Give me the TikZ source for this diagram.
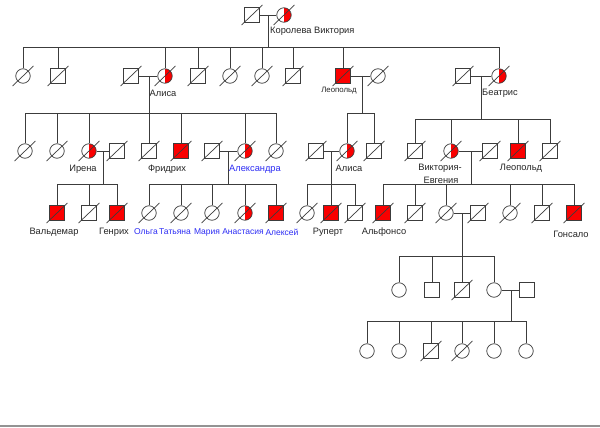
\documentclass[tikz,border=0pt]{standalone}
\usepackage{fontspec}
\setmainfont{Liberation Sans}
\definecolor{pedline}{RGB}{60,60,60}
\definecolor{aff}{RGB}{250,0,0}
\definecolor{nameblue}{RGB}{45,45,245}
\tikzset{
  pl/.style={draw=pedline,line width=0.7pt},
  ind/.style={draw=pedline,fill=white,line width=0.7pt,inner sep=0pt,minimum size=14.5pt},
  male/.style={ind,rectangle},
  female/.style={ind,circle},
  affm/.style={male,fill=aff},
  carrier/.style={female,path picture={\fill[aff] (path picture bounding box.north) rectangle (path picture bounding box.south east);}},
  dead/.style={append after command={([shift={(-10.5,10)}]\tikzlastnode.center) edge[pl] ([shift={(10.5,-10)}]\tikzlastnode.center)}},
  lbl/.style={font=\fontsize{9.3}{11}\selectfont,text=black!85,inner sep=0pt},
  blbl/.style={inner sep=0pt,font=\fontsize{8.5}{10}\selectfont,text=nameblue},
}

\begin{document}
\begin{tikzpicture}[x=1pt,y=-1pt]
  \fill[white] (0,0) rectangle (600,428);
  \useasboundingbox (0,0) rectangle (600,428);
  \draw[gray!85,line width=2pt] (0,426) -- (600,426);

  % generation I
  \node[male,dead] (albert) at (252,15) {};
  \node[carrier,dead] (victoria) at (284,15) {};
  \node[lbl,anchor=west] (lvictoria) at (270,31) {Королева Виктория};

  % generation II
  \node[female,dead] (vicky) at (23,76) {};
  \node[male,dead] (edward) at (58,76) {};
  \node[male,dead] (ludwig) at (131,76) {};
  \node[carrier,dead] (alice) at (165,76) {};
  \node[male,dead] (alfred) at (198,76) {};
  \node[female,dead] (helena) at (230,76) {};
  \node[female,dead] (louise) at (262,76) {};
  \node[male,dead] (arthur) at (293,76) {};
  \node[affm,dead] (leo) at (343,76) {};
  \node[female,dead] (helene) at (378,76) {};
  \node[male,dead] (henry) at (463,76) {};
  \node[carrier,dead] (beatrice) at (499,76) {};
  \node[lbl] (lalice) at (163,93) {Алиса};
  \node[lbl,font=\fontsize{7.8}{9}\selectfont] (lleo) at (339,91) {Леопольд};
  \node[lbl] (lbeatrice) at (500,93) {Беатрис};

  % generation III
  \node[female,dead] (victoria3) at (25,151) {};
  \node[female,dead] (ella) at (57,151) {};
  \node[carrier,dead] (irene) at (89,151) {};
  \node[male,dead] (irenehus) at (117,151) {};
  \node[male,dead] (ernie) at (149,151) {};
  \node[affm,dead] (fritz) at (181,151) {};
  \node[male,dead] (nicky) at (212,151) {};
  \node[carrier,dead] (alix) at (245,151) {};
  \node[female,dead] (marie) at (276,151) {};
  \node[male,dead] (alicehus) at (316,151) {};
  \node[carrier,dead] (alicea) at (347,151) {};
  \node[male,dead] (charles) at (374,151) {};
  \node[male,dead] (alexb) at (415,151) {};
  \node[carrier,dead] (ena) at (451,151) {};
  \node[male,dead] (enahus) at (490,151) {};
  \node[affm,dead] (leob) at (518,151) {};
  \node[male,dead] (maurice) at (550,151) {};
  \node[lbl] (lirene) at (83,169) {Ирена};
  \node[lbl] (lfritz) at (167,169) {Фридрих};
  \node[lbl,text=nameblue] (lalix) at (255,169) {Александра};
  \node[lbl] (lalicea) at (349,168) {Алиса};
  \node[lbl] (lena1) at (440,168) {Виктория-};
  \node[lbl] (lena2) at (441,180) {Евгения};
  \node[lbl] (lleob) at (521,168) {Леопольд};

  % generation IV
  \node[affm,dead] (waldemar) at (57,213) {};
  \node[male,dead] (sigismund) at (89,213) {};
  \node[affm,dead] (heinrich) at (117,213) {};
  \node[female,dead] (olga) at (149,213) {};
  \node[female,dead] (tatiana) at (181,213) {};
  \node[female,dead] (maria) at (212,213) {};
  \node[carrier,dead] (anastasia) at (245,213) {};
  \node[affm,dead] (alexei) at (276,213) {};
  \node[female,dead] (may) at (307,213) {};
  \node[affm,dead] (rupert) at (331,213) {};
  \node[male,dead] (maurice4) at (355,213) {};
  \node[affm,dead] (alfonso) at (383,213) {};
  \node[male,dead] (jaime) at (415,213) {};
  \node[female,dead] (beatriz) at (446,213) {};
  \node[male,dead] (beatrizhus) at (478,213) {};
  \node[female,dead] (cristina) at (510,213) {};
  \node[male,dead] (juan) at (542,213) {};
  \node[affm,dead] (gonzalo) at (574,213) {};
  \node[lbl] (lwaldemar) at (54,232) {Вальдемар};
  \node[lbl] (lheinrich) at (114,232) {Генрих};
  \node[blbl] (lolga) at (146,232) {Ольга};
  \node[blbl] (ltatiana) at (175,232) {Татьяна};
  \node[blbl] (lmaria) at (207,232) {Мария};
  \node[blbl] (lanastasia) at (243,232) {Анастасия};
  \node[blbl] (lalexei) at (282,232) {Алексей};
  \node[lbl] (lrupert) at (328,232) {Руперт};
  \node[lbl] (lalfonso) at (384,232) {Альфонсо};
  \node[lbl] (lgonzalo) at (571,234) {Гонсало};

  % generation V
  \node[female] (v1) at (399,290) {};
  \node[male] (v2) at (432,290) {};
  \node[male,dead] (v3) at (462,290) {};
  \node[female] (v4) at (494,290) {};
  \node[male] (v4hus) at (527,290) {};

  % generation VI
  \node[female] (w1) at (367,351) {};
  \node[female] (w2) at (399,351) {};
  \node[male,dead] (w3) at (431,351) {};
  \node[female,dead] (w4) at (462,351) {};
  \node[female] (w5) at (494,351) {};
  \node[female] (w6) at (526,351) {};

  % couples
  \foreach \a/\b in {albert/victoria,ludwig/alice,leo/helene,henry/beatrice,
      irene/irenehus,nicky/alix,alicehus/alicea,ena/enahus,beatriz/beatrizhus,v4/v4hus}
    \draw[pl] (\a) -- (\b);

  % sibships: descent point / sibship line / children
  \coordinate (mI) at (268,15);    \coordinate (sI) at (0,47);
  \coordinate (mAl) at (149,76);   \coordinate (sAl) at (0,113);
  \coordinate (mLeo) at (362,76);  \coordinate (sLeo) at (0,113);
  \coordinate (mBea) at (481,76);  \coordinate (sBea) at (0,119);
  \coordinate (mIr) at (103,151);  \coordinate (sIr) at (0,184);
  \coordinate (mAx) at (228,151);  \coordinate (sAx) at (0,184);
  \coordinate (mAa) at (331,151);  \coordinate (sAa) at (0,184);
  \coordinate (mEna) at (471,151); \coordinate (sEna) at (0,184);
  \coordinate (mBz) at (462,213);  \coordinate (sBz) at (0,256);
  \coordinate (mV) at (511,290);   \coordinate (sV) at (0,321);

  \foreach \m/\s/\first/\last/\kids in {
      mI/sI/vicky/beatrice/{vicky,edward,alice,alfred,helena,louise,arthur,leo,beatrice},
      mAl/sAl/victoria3/marie/{victoria3,ella,irene,ernie,fritz,alix,marie},
      mLeo/sLeo/alicea/charles/{alicea,charles},
      mBea/sBea/alexb/maurice/{alexb,ena,leob,maurice},
      mIr/sIr/waldemar/heinrich/{waldemar,sigismund,heinrich},
      mAx/sAx/olga/alexei/{olga,tatiana,maria,anastasia,alexei},
      mAa/sAa/may/maurice4/{may,rupert,maurice4},
      mEna/sEna/alfonso/gonzalo/{alfonso,jaime,beatriz,cristina,juan,gonzalo},
      mBz/sBz/v1/v4/{v1,v2,v3,v4},
      mV/sV/w1/w6/{w1,w2,w3,w4,w5,w6}} {
    \draw[pl] (\m) -- (\m |- \s);
    \draw[pl] (\first |- \s) -- (\last |- \s);
    \foreach \kid in \kids
      \draw[pl] (\kid) -- (\kid |- \s);
  }
\end{tikzpicture}
\end{document}
